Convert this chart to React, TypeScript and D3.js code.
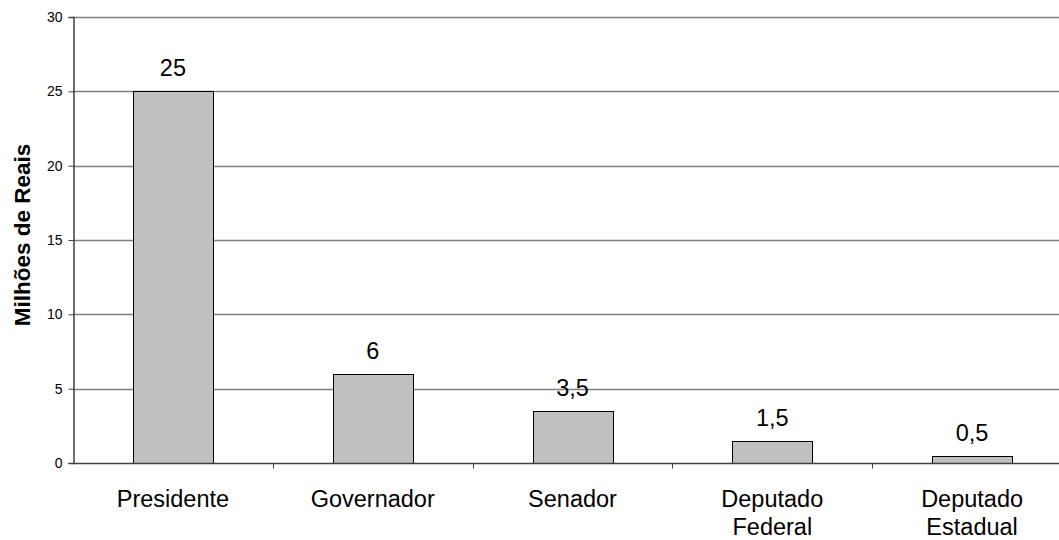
import React, { useEffect, useRef } from "react";
import * as d3 from "d3";

// dados
const categories = ["Presidente", "Governador", "Senador", "Deputado Federal", "Deputado Estadual"];
const values = [25, 6, 3.5, 1.5, 0.5];
const valueLabels = ["25", "6", "3,5", "1,5", "0,5"];
const yTicks = [0, 5, 10, 15, 20, 25, 30];

const W = 1059;
const H = 540;

function App() {
  const ref = useRef<SVGSVGElement>(null);

  useEffect(() => {
    const svg = d3.select(ref.current);
    svg.selectAll("*").remove();

    const margin = { top: 17, left: 73, bottom: 77 };
    const plotRight = 1072; // plot area runs past the window edge
    const height = H - margin.top - margin.bottom;

    const x = d3.scaleBand().domain(categories).range([margin.left, plotRight]).paddingInner(0).paddingOuter(0);
    const y = d3.scaleLinear().domain([0, 30]).range([margin.top + height, margin.top]);

    const font = "'Liberation Sans', Arial, sans-serif";

    // gridlines
    svg
      .append("g")
      .selectAll("line")
      .data(yTicks.filter((d) => d > 0))
      .join("line")
      .attr("x1", margin.left)
      .attr("x2", plotRight)
      .attr("y1", (d) => Math.round(y(d)) + 0.5)
      .attr("y2", (d) => Math.round(y(d)) + 0.5)
      .attr("stroke", "#808080")
      .attr("stroke-width", 1.5);

    // bars
    const barW = 80;
    svg
      .append("g")
      .selectAll("rect")
      .data(values)
      .join("rect")
      .attr("x", (d, i) => Math.round(x(categories[i])! + x.bandwidth() / 2 - barW / 2) + 0.5)
      .attr("y", (d) => Math.round(y(d)) + 0.5)
      .attr("width", barW)
      .attr("height", (d) => Math.round(y(0)) - Math.round(y(d)))
      .attr("fill", "#c0c0c0")
      .attr("stroke", "#000")
      .attr("stroke-width", 1);

    // value labels
    svg
      .append("g")
      .selectAll("text")
      .data(values)
      .join("text")
      .attr("x", (d, i) => x(categories[i])! + x.bandwidth() / 2)
      .attr("y", (d) => y(d) - 15)
      .attr("text-anchor", "middle")
      .attr("font-family", font)
      .attr("font-size", 23.5)
      .attr("fill", "#000")
      .text((d, i) => valueLabels[i]);

    // y axis
    const yAxis = svg
      .append("g")
      .attr("transform", "translate(" + (margin.left + 0.5) + ",0)")
      .call(d3.axisLeft(y).tickValues(yTicks).tickSize(5).tickPadding(6));
    yAxis.select(".domain").attr("stroke", "#404040").attr("stroke-width", 1.5);
    yAxis.selectAll(".tick line").attr("stroke", "#404040");
    yAxis.selectAll(".tick text").attr("font-family", font).attr("font-size", 14).attr("fill", "#000");

    // x axis
    const baseY = Math.round(y(0)) + 0.5;
    svg
      .append("line")
      .attr("x1", margin.left)
      .attr("x2", plotRight)
      .attr("y1", baseY)
      .attr("y2", baseY)
      .attr("stroke", "#404040")
      .attr("stroke-width", 1.5);
    svg
      .append("g")
      .selectAll("line")
      .data(categories.slice(1))
      .join("line")
      .attr("x1", (d) => Math.round(x(d)!) + 0.5)
      .attr("x2", (d) => Math.round(x(d)!) + 0.5)
      .attr("y1", baseY)
      .attr("y2", baseY + 5)
      .attr("stroke", "#404040");

    // category labels (two-word ones wrap onto a second line)
    const cat = svg
      .append("g")
      .selectAll("text")
      .data(categories)
      .join("text")
      .attr("text-anchor", "middle")
      .attr("font-family", font)
      .attr("font-size", 23.5)
      .attr("fill", "#000")
      .attr("x", (d) => x(d)! + x.bandwidth() / 2)
      .attr("y", 507);
    cat
      .selectAll("tspan")
      .data((d) => d.split(" "))
      .join("tspan")
      .attr("x", function () {
        return (this.parentNode as SVGTextElement).getAttribute("x");
      })
      .attr("dy", (d, i) => (i === 0 ? 0 : 28))
      .text((d) => d);

    // y title
    svg
      .append("text")
      .attr("transform", "translate(30,235) rotate(-90)")
      .attr("text-anchor", "middle")
      .attr("font-family", font)
      .attr("font-size", 22.5)
      .attr("font-weight", "bold")
      .attr("fill", "#000")
      .text("Milhões de Reais");
  }, []);

  return (
    <svg
      ref={ref}
      width={W}
      height={H}
      style={{ position: "absolute", left: 0, top: 0, background: "#fff" }}
    />
  );
}

export default App;
